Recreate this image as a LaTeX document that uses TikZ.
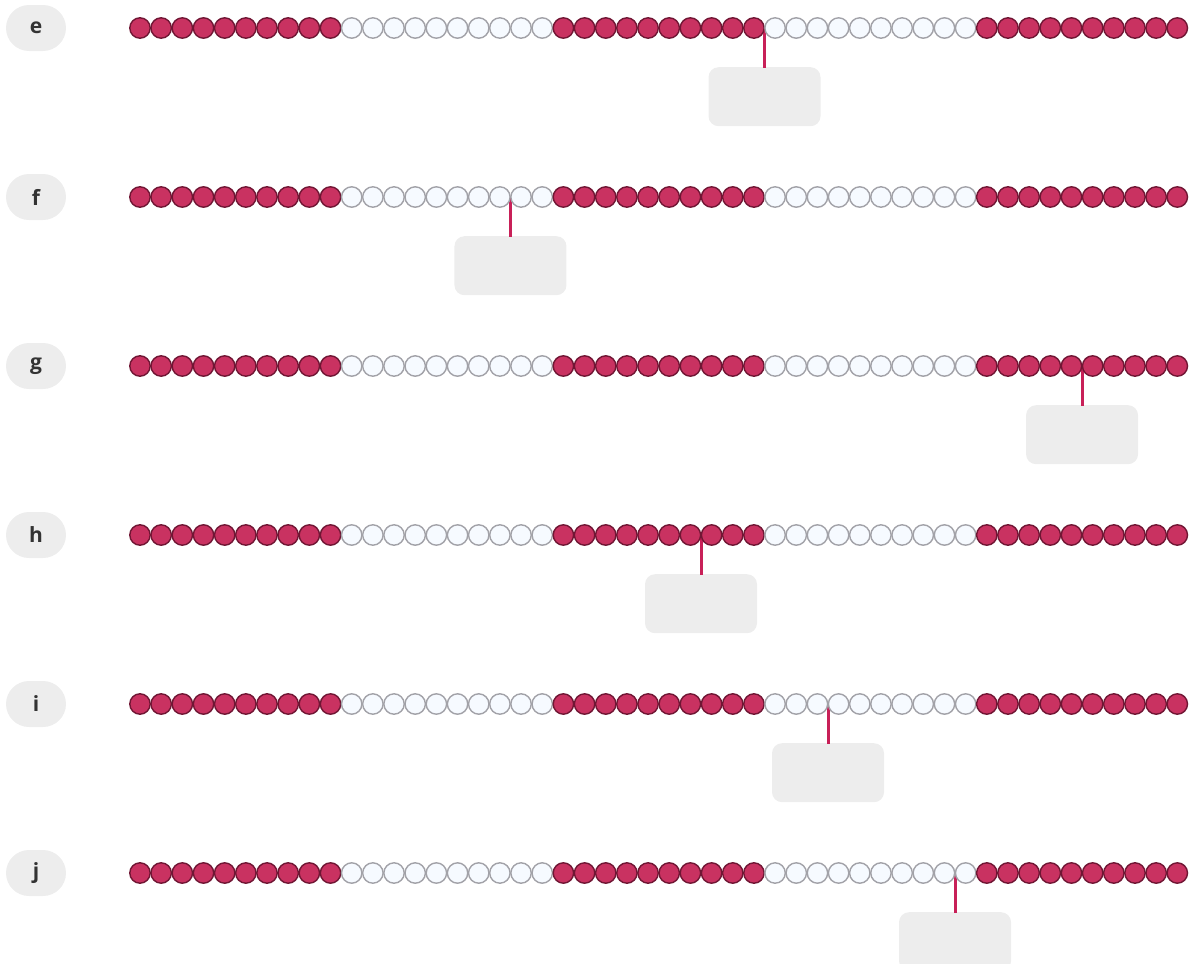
\documentclass[tikz,border=0pt]{standalone}
\usepackage{fontspec}
\setmainfont{Open Sans}
\definecolor{beadred}{RGB}{201,50,97}
\definecolor{beadredline}{RGB}{112,22,52}
\definecolor{beadwhite}{RGB}{246,250,255}
\definecolor{beadwhiteline}{RGB}{162,162,168}
\definecolor{boxgrey}{RGB}{237,237,237}
\definecolor{stemred}{RGB}{200,32,88}
\definecolor{labeltext}{RGB}{51,51,51}
\tikzset{
  bead/.style={circle, minimum size=20.4pt, inner sep=0pt, line width=1.4pt},
  redbead/.style={bead, fill=beadred, draw=beadredline},
  whitebead/.style={bead, fill=beadwhite, draw=beadwhiteline},
  infobox/.style={rectangle, rounded corners=10pt, fill=boxgrey, draw=none,
    minimum width=112pt, minimum height=59pt, inner sep=0pt},
  pill/.style={rectangle, rounded corners=23pt, fill=boxgrey, draw=none,
    minimum width=60pt, minimum height=46pt, inner sep=0pt,
    font=\fontsize{21}{21}\selectfont\bfseries, text=labeltext},
  stem/.style={draw=stemred, line width=3pt}
}
\begin{document}
\begin{tikzpicture}[x=1pt,y=-1pt]
\useasboundingbox (0,0) rectangle (1195,964);
\clip (0,0) rectangle (1195,964);
\foreach \lab/\row/\k in {e/28/30, f/197/18, g/366/45, h/535/27, i/704/33, j/873/39} {
  \node[pill] (\lab L) at (36,\row) {\lab};
  \coordinate (\lab J) at ({140+(\k-0.5)*21.17},\row);
  \node[infobox, anchor=north] (\lab B) at ({140+(\k-0.5)*21.17},{\row+39}) {};
  \draw[stem] (\lab J) -- ([yshift=-1pt]\lab B.north);
  \foreach \n in {1,...,50} {
    \pgfmathtruncatemacro\grp{mod(int((\n-1)/10),2)}
    \ifnum\grp=0 \def\beadsty{redbead}\else\def\beadsty{whitebead}\fi
    \node[\beadsty] (\lab\n) at ({140+(\n-1)*21.17},\row) {};
  }
}
\end{tikzpicture}
\end{document}
